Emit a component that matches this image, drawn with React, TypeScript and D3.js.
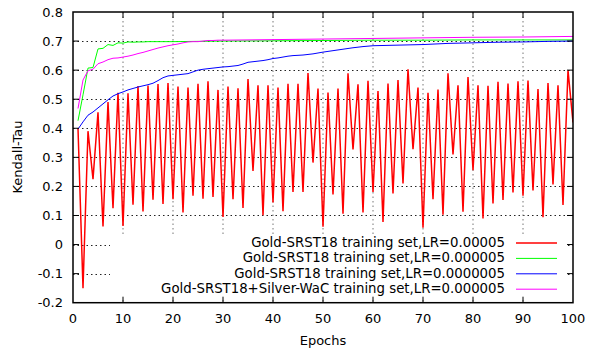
import { useMemo } from "react";
import * as d3 from "d3";

/* ------------------------------------------------------------------ */
/*  Data                                                              */
/* ------------------------------------------------------------------ */

// LR=0.00005, one value per epoch 1..100
const redValues = [
  0.4, -0.15, 0.39, 0.225, 0.455, 0.062, 0.49, 0.125, 0.522, 0.064,
  0.52, 0.137, 0.545, 0.114, 0.547, 0.154, 0.552, 0.14, 0.556, 0.156,
  0.544, 0.11, 0.54, 0.168, 0.553, 0.158, 0.562, 0.164, 0.532, 0.095,
  0.544, 0.156, 0.538, 0.126, 0.569, 0.253, 0.548, 0.101, 0.548, 0.145,
  0.54, 0.115, 0.553, 0.181, 0.553, 0.181, 0.59, 0.282, 0.537, 0.061,
  0.523, 0.172, 0.537, 0.106, 0.589, 0.327, 0.551, 0.11, 0.563, 0.181,
  0.528, 0.078, 0.554, 0.176, 0.566, 0.21, 0.603, 0.328, 0.54, 0.058,
  0.522, 0.156, 0.533, 0.103, 0.589, 0.31, 0.548, 0.113, 0.576, 0.256,
  0.548, 0.09, 0.546, 0.141, 0.56, 0.153, 0.554, 0.179, 0.562, 0.168,
  0.564, 0.186, 0.535, 0.094, 0.556, 0.207, 0.548, 0.136, 0.599, 0.42,
];

// [epoch, value]
const greenPoints: [number, number][] = [
  [1, 0.426], [2, 0.515], [3, 0.607], [4, 0.609], [5, 0.673], [6, 0.675],
  [7, 0.688], [8, 0.685], [9, 0.694], [10, 0.693], [11, 0.697], [12, 0.696],
  [13, 0.697], [14, 0.697], [15, 0.698], [20, 0.698], [25, 0.699], [30, 0.7],
  [40, 0.701], [50, 0.702], [60, 0.703], [70, 0.703], [80, 0.704], [90, 0.704],
  [100, 0.704],
];

const bluePoints: [number, number][] = [
  [1, 0.397], [2, 0.422], [3, 0.445], [4, 0.456], [5, 0.47], [6, 0.484],
  [7, 0.498], [8, 0.511], [9, 0.519], [10, 0.525], [11, 0.532], [12, 0.537],
  [13, 0.542], [14, 0.546], [15, 0.55], [16, 0.555], [17, 0.564], [18, 0.574],
  [19, 0.58], [20, 0.582], [21, 0.584], [22, 0.586], [23, 0.588], [24, 0.594],
  [25, 0.6], [26, 0.603], [27, 0.605], [28, 0.607], [29, 0.609], [30, 0.611],
  [31, 0.612], [32, 0.614], [33, 0.616], [34, 0.621], [35, 0.627], [36, 0.629],
  [37, 0.631], [38, 0.633], [39, 0.636], [40, 0.64], [41, 0.642], [42, 0.645],
  [43, 0.648], [44, 0.65], [45, 0.651], [46, 0.652], [48, 0.656], [50, 0.662],
  [52, 0.667], [54, 0.672], [56, 0.677], [58, 0.681], [60, 0.684], [65, 0.686],
  [70, 0.688], [75, 0.692], [80, 0.694], [85, 0.696], [90, 0.697], [95, 0.699],
  [100, 0.7],
];

const magentaPoints: [number, number][] = [
  [1, 0.468], [2, 0.566], [3, 0.598], [4, 0.603], [5, 0.622], [6, 0.628],
  [7, 0.636], [8, 0.641], [9, 0.642], [10, 0.645], [11, 0.648], [12, 0.652],
  [13, 0.657], [14, 0.661], [15, 0.666], [16, 0.671], [17, 0.676], [18, 0.68],
  [19, 0.684], [20, 0.687], [21, 0.69], [22, 0.694], [23, 0.697], [24, 0.698],
  [25, 0.698], [26, 0.7], [27, 0.702], [28, 0.702], [29, 0.703], [30, 0.703],
  [35, 0.704], [40, 0.705], [50, 0.707], [60, 0.709], [70, 0.711], [80, 0.713],
  [90, 0.714], [100, 0.716],
];

const xTickValues = [0, 10, 20, 30, 40, 50, 60, 70, 80, 90, 100];
const yTickValues = [-0.2, -0.1, 0, 0.1, 0.2, 0.3, 0.4, 0.5, 0.6, 0.7, 0.8];

const seriesLabels = [
  "Gold-SRST18 training set,LR=0.00005",
  "Gold-SRST18 training set,LR=0.000005",
  "Gold-SRST18 training set,LR=0.0000005",
  "Gold-SRST18+Silver-WaC training set,LR=0.000005",
];

/* ------------------------------------------------------------------ */
/*  Component                                                         */
/* ------------------------------------------------------------------ */

export default function App() {
  const width = 589;
  const height = 350;
  const left = 73;
  const right = 573;
  const top = 12;
  const bottom = 302.7;
  const font = "DejaVu Sans, sans-serif";

  const x = d3.scaleLinear().domain([0, 100]).range([left, right]);
  const y = d3.scaleLinear().domain([-0.2, 0.8]).range([bottom, top]);

  const series = useMemo(() => {
    const red: [number, number][] = redValues.map((v, i) => [i + 1, v]);
    return [
      { pts: red, color: "#ff0000", w: 1.5 },
      { pts: greenPoints, color: "#00ff00", w: 1 },
      { pts: bluePoints, color: "#0000ff", w: 1 },
      { pts: magentaPoints, color: "#ff00ff", w: 1 },
    ];
  }, []);

  const line = d3
    .line<[number, number]>()
    .x((d) => x(d[0]))
    .y((d) => y(d[1]));

  // opaque key box
  const keyBox = { x0: 110, x1: 566, y0: 235, y1: 299 };
  const keyRowY = (i: number) => 242.5 + i * 15.4;

  const fmt = (t: number) => (Math.abs(t) < 1e-9 ? "0" : d3.format(".1f")(t).replace("−", "-"));

  return (
    <svg
      width={width}
      height={height}
      style={{ position: "absolute", left: 0, top: 0, background: "#fff" }}
      fontFamily={font}
    >
      <defs>
        <clipPath id="plot">
          <rect x={left} y={top} width={right - left} height={bottom - top} />
        </clipPath>
      </defs>

      {/* Grid */}
      {yTickValues.slice(1, -1).map((t) => (
        <line
          key={`yg-${t}`}
          x1={left}
          x2={right}
          y1={Math.round(y(t)) + 0.5}
          y2={Math.round(y(t)) + 0.5}
          stroke="#222"
          strokeWidth={1}
          strokeDasharray="1.5 3"
        />
      ))}
      {xTickValues.slice(1, -1).map((t) => (
        <line
          key={`xg-${t}`}
          x1={x(t)}
          x2={x(t)}
          y1={top}
          y2={bottom}
          stroke="#777"
          strokeWidth={1}
          strokeDasharray="1.5 3"
        />
      ))}

      {/* Data */}
      <g clipPath="url(#plot)">
        {series.map((s, i) => (
          <path
            key={i}
            d={line(s.pts) ?? ""}
            fill="none"
            stroke={s.color}
            strokeWidth={s.w}
            strokeLinejoin="miter"
          />
        ))}
      </g>

      {/* Key */}
      <rect
        x={keyBox.x0}
        y={keyBox.y0}
        width={keyBox.x1 - keyBox.x0}
        height={keyBox.y1 - keyBox.y0}
        fill="#fff"
      />
      {seriesLabels.map((lab, i) => (
        <g key={lab}>
          <text
            x={505}
            y={keyRowY(i)}
            textAnchor="end"
            dominantBaseline="central"
            fontSize={13.3}
            fill="#000"
          >
            {lab}
          </text>
          <line
            x1={516}
            x2={557}
            y1={keyRowY(i) + 0.5}
            y2={keyRowY(i) + 0.5}
            stroke={series[i].color}
            strokeWidth={series[i].w}
          />
        </g>
      ))}

      {/* Border ticks */}
      {xTickValues.slice(1, -1).map((t) => (
        <g key={`xt-${t}`} stroke="#000" strokeWidth={1}>
          <line x1={x(t)} x2={x(t)} y1={bottom} y2={bottom - 6} />
          <line x1={x(t)} x2={x(t)} y1={top} y2={top + 6} />
        </g>
      ))}
      {yTickValues.slice(1, -1).map((t) => (
        <g key={`yt-${t}`} stroke="#000" strokeWidth={1}>
          <line x1={left} x2={left + 6} y1={y(t)} y2={y(t)} />
          <line x1={right} x2={right - 6} y1={y(t)} y2={y(t)} />
        </g>
      ))}

      {/* Border */}
      <rect
        x={left}
        y={top}
        width={right - left}
        height={bottom - top}
        fill="none"
        stroke="#000"
        strokeWidth={1.5}
      />

      {/* Tick labels */}
      {xTickValues.map((t) => (
        <text
          key={`xl-${t}`}
          x={x(t)}
          y={323}
          textAnchor="middle"
          fontSize={13}
          fill="#000"
        >
          {t}
        </text>
      ))}
      {yTickValues.map((t) => (
        <text
          key={`yl-${t}`}
          x={63}
          y={y(t)}
          textAnchor="end"
          dominantBaseline="central"
          fontSize={13}
          fill="#000"
        >
          {fmt(t)}
        </text>
      ))}

      {/* Axis titles */}
      <text x={323} y={345} textAnchor="middle" fontSize={13} fill="#000">
        Epochs
      </text>
      <text
        transform={`translate(22,${157}) rotate(-90)`}
        textAnchor="middle"
        fontSize={13}
        fill="#000"
      >
        Kendall-Tau
      </text>
    </svg>
  );
}
